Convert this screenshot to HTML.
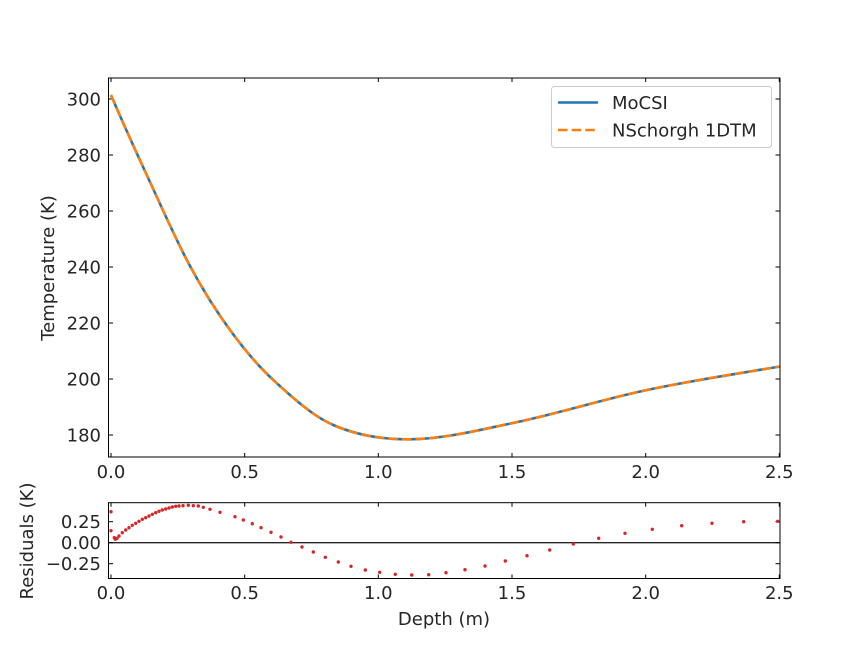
<!DOCTYPE html>
<html><head><meta charset="utf-8"><style>
html,body{margin:0;padding:0;background:#fff}
text{font-family:"DejaVu Sans","Liberation Sans",sans-serif;fill:#262626}
</style></head><body>
<svg width="867" height="650" viewBox="0 0 867 650" xmlns="http://www.w3.org/2000/svg">
<rect width="867" height="650" fill="#fff"/>
<g stroke="#000" stroke-width="1">
<line x1="111" y1="457" x2="111" y2="453"/><line x1="244.7" y1="457" x2="244.7" y2="453"/><line x1="378.3" y1="457" x2="378.3" y2="453"/><line x1="512" y1="457" x2="512" y2="453"/><line x1="645.7" y1="457" x2="645.7" y2="453"/><line x1="779.3" y1="457" x2="779.3" y2="453"/>
<line x1="111" y1="78" x2="111" y2="82"/><line x1="244.7" y1="78" x2="244.7" y2="82"/><line x1="378.3" y1="78" x2="378.3" y2="82"/><line x1="512" y1="78" x2="512" y2="82"/><line x1="645.7" y1="78" x2="645.7" y2="82"/><line x1="779.3" y1="78" x2="779.3" y2="82"/>
<line x1="108.5" y1="99" x2="113" y2="99"/><line x1="108.5" y1="155" x2="113" y2="155"/><line x1="108.5" y1="211" x2="113" y2="211"/><line x1="108.5" y1="267" x2="113" y2="267"/><line x1="108.5" y1="323" x2="113" y2="323"/><line x1="108.5" y1="379" x2="113" y2="379"/><line x1="108.5" y1="435" x2="113" y2="435"/>
<line x1="780" y1="99" x2="775.5" y2="99"/><line x1="780" y1="155" x2="775.5" y2="155"/><line x1="780" y1="211" x2="775.5" y2="211"/><line x1="780" y1="267" x2="775.5" y2="267"/><line x1="780" y1="323" x2="775.5" y2="323"/><line x1="780" y1="379" x2="775.5" y2="379"/><line x1="780" y1="435" x2="775.5" y2="435"/>
</g>
<g font-size="18" text-anchor="middle">
<text x="111" y="478">0.0</text><text x="244.7" y="478">0.5</text><text x="378.3" y="478">1.0</text><text x="512" y="478">1.5</text><text x="645.7" y="478">2.0</text><text x="779.3" y="478">2.5</text>
</g>
<g font-size="18" text-anchor="end">
<text x="101" y="105.5">300</text><text x="101" y="161.5">280</text><text x="101" y="217.5">260</text><text x="101" y="273.5">240</text><text x="101" y="329.5">220</text><text x="101" y="385.5">200</text><text x="101" y="441.5">180</text>
</g>
<text font-size="18" text-anchor="middle" transform="translate(54,268) rotate(-90)">Temperature (K)</text>
<path d="M111,95 C124,125.55 137,153.92 150,182 C163.33,210.8 176.67,241.33 190,266 C203.33,290.67 216.67,311.73 230,330 C244.43,349.77 258.87,366.72 273.3,380 C293.3,398.4 313.3,416.32 333.3,425 C358.87,436.1 384.43,439.58 410,439.3 C444.33,438.92 478.67,430.14 513,423 C557.67,413.71 602.33,399.47 647,390 C691.33,380.6 735.67,374.04 780,366.5" fill="none" stroke="#1f77b4" stroke-width="2.6"/>
<path d="M111,95 C124,125.55 137,153.92 150,182 C163.33,210.8 176.67,241.33 190,266 C203.33,290.67 216.67,311.73 230,330 C244.43,349.77 258.87,366.72 273.3,380 C293.3,398.4 313.3,416.32 333.3,425 C358.87,436.1 384.43,439.58 410,439.3 C444.33,438.92 478.67,430.14 513,423 C557.67,413.71 602.33,399.47 647,390 C691.33,380.6 735.67,374.04 780,366.5" fill="none" stroke="#ff7f0e" stroke-width="2.6" stroke-dasharray="9.6,4"/>
<rect x="108.5" y="78" width="671.5" height="379" fill="none" stroke="#000" stroke-width="1"/>
<rect x="551.5" y="86.5" width="220" height="61" rx="3" fill="#fff" fill-opacity="0.8" stroke="#ccc"/>
<line x1="558" y1="102.5" x2="598" y2="102.5" stroke="#1f77b4" stroke-width="2.6"/>
<line x1="558" y1="130" x2="598" y2="130" stroke="#ff7f0e" stroke-width="2.6" stroke-dasharray="9.6,4"/>
<text x="612" y="109" font-size="18">MoCSI</text>
<text x="612" y="136.5" font-size="18">NSchorgh 1DTM</text>
<line x1="108.5" y1="542.7" x2="780" y2="542.7" stroke="#262626" stroke-width="1.4"/>
<g stroke="#000" stroke-width="1">
<line x1="111" y1="578.5" x2="111" y2="574.5"/><line x1="244.7" y1="578.5" x2="244.7" y2="574.5"/><line x1="378.3" y1="578.5" x2="378.3" y2="574.5"/><line x1="512" y1="578.5" x2="512" y2="574.5"/><line x1="645.7" y1="578.5" x2="645.7" y2="574.5"/><line x1="779.3" y1="578.5" x2="779.3" y2="574.5"/>
<line x1="111" y1="502.7" x2="111" y2="506.7"/><line x1="244.7" y1="502.7" x2="244.7" y2="506.7"/><line x1="378.3" y1="502.7" x2="378.3" y2="506.7"/><line x1="512" y1="502.7" x2="512" y2="506.7"/><line x1="645.7" y1="502.7" x2="645.7" y2="506.7"/><line x1="779.3" y1="502.7" x2="779.3" y2="506.7"/>
<line x1="108.5" y1="521.7" x2="113" y2="521.7"/><line x1="108.5" y1="542.7" x2="113" y2="542.7"/><line x1="108.5" y1="563.7" x2="113" y2="563.7"/>
<line x1="780" y1="521.7" x2="775.5" y2="521.7"/><line x1="780" y1="542.7" x2="775.5" y2="542.7"/><line x1="780" y1="563.7" x2="775.5" y2="563.7"/>
</g>
<g fill="#d62728">
<circle cx="111" cy="511.7" r="1.7"/><circle cx="111" cy="530.7" r="1.7"/><circle cx="114.3" cy="537.7" r="1.7"/><circle cx="115.3" cy="539.3" r="1.7"/><circle cx="117" cy="538.3" r="1.7"/>
<circle cx="119" cy="536" r="1.7"/><circle cx="122.3" cy="532.7" r="1.7"/><circle cx="125.7" cy="530" r="1.7"/><circle cx="129" cy="527.7" r="1.7"/><circle cx="132.3" cy="525.3" r="1.7"/><circle cx="135.7" cy="523.3" r="1.7"/><circle cx="139" cy="521.3" r="1.7"/><circle cx="142.3" cy="519.3" r="1.7"/><circle cx="145.7" cy="517.7" r="1.7"/><circle cx="149" cy="516" r="1.7"/><circle cx="152.3" cy="514.3" r="1.7"/><circle cx="155.7" cy="512.7" r="1.7"/><circle cx="159" cy="511.3" r="1.7"/><circle cx="162.3" cy="510" r="1.7"/><circle cx="165.7" cy="509" r="1.7"/><circle cx="169" cy="508" r="1.7"/><circle cx="172.3" cy="507" r="1.7"/><circle cx="175.7" cy="506.3" r="1.7"/><circle cx="179" cy="506" r="1.7"/><circle cx="183" cy="505.7" r="1.7"/><circle cx="188.3" cy="505.3" r="1.7"/>
<circle cx="193.3" cy="505.7" r="1.7"/><circle cx="198.3" cy="506" r="1.7"/><circle cx="203.3" cy="507.3" r="1.7"/><circle cx="210" cy="509.3" r="1.7"/><circle cx="220" cy="512.3" r="1.7"/><circle cx="235" cy="516.7" r="1.7"/><circle cx="243.3" cy="520" r="1.7"/><circle cx="252.3" cy="523.7" r="1.7"/><circle cx="261" cy="527.7" r="1.7"/><circle cx="271" cy="532.3" r="1.7"/><circle cx="281" cy="537" r="1.7"/><circle cx="291" cy="542.3" r="1.7"/><circle cx="302" cy="547" r="1.7"/><circle cx="313.3" cy="552" r="1.7"/><circle cx="325.3" cy="557.3" r="1.7"/><circle cx="338.3" cy="562" r="1.7"/><circle cx="351" cy="566.3" r="1.7"/><circle cx="365.3" cy="570" r="1.7"/><circle cx="379.7" cy="572.3" r="1.7"/><circle cx="395.3" cy="574.3" r="1.7"/><circle cx="411.7" cy="575" r="1.7"/><circle cx="428.7" cy="574.7" r="1.7"/>
<circle cx="446" cy="572.7" r="1.7"/><circle cx="465" cy="569.7" r="1.7"/><circle cx="485" cy="566" r="1.7"/><circle cx="505.3" cy="561" r="1.7"/><circle cx="527" cy="555.7" r="1.7"/><circle cx="549.7" cy="550" r="1.7"/><circle cx="573.3" cy="544" r="1.7"/><circle cx="598.7" cy="538.3" r="1.7"/><circle cx="625" cy="533.3" r="1.7"/><circle cx="652.3" cy="529.3" r="1.7"/><circle cx="681.7" cy="525.7" r="1.7"/><circle cx="712" cy="523.3" r="1.7"/><circle cx="743.7" cy="521.7" r="1.7"/><circle cx="777.7" cy="521.3" r="1.7"/>
</g>
<rect x="108.5" y="502.7" width="671.5" height="75.8" fill="none" stroke="#000" stroke-width="1"/>
<g font-size="18" text-anchor="middle">
<text x="111" y="599">0.0</text><text x="244.7" y="599">0.5</text><text x="378.3" y="599">1.0</text><text x="512" y="599">1.5</text><text x="645.7" y="599">2.0</text><text x="779.3" y="599">2.5</text>
</g>
<g font-size="18" text-anchor="end">
<text x="101" y="528">0.25</text><text x="101" y="549">0.00</text><text x="101" y="570">−0.25</text>
</g>
<text x="444" y="625" font-size="18" text-anchor="middle">Depth (m)</text>
<text font-size="18" text-anchor="middle" transform="translate(33,541) rotate(-90)">Residuals (K)</text>
</svg>
</body></html>
